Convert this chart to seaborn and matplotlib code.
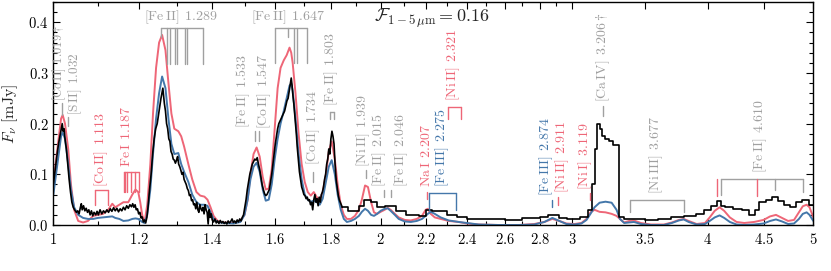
import matplotlib
matplotlib.use("Agg")
import matplotlib.pyplot as plt
import matplotlib.ticker as mticker
import seaborn as sns

RED = "#EE6677"
BLUE = "#4477AA"
GRAY = "#A0A0A0"

# model spectra (micron, mJy)
wave_model = [
    1.000, 1.010, 1.0165, 1.020, 1.025, 1.032, 1.038, 1.045, 1.054, 1.065,
    1.076, 1.088, 1.099, 1.111, 1.123, 1.133, 1.140, 1.150, 1.160, 1.172,
    1.182, 1.190, 1.197, 1.202, 1.207, 1.213, 1.220, 1.228, 1.235, 1.243,
    1.251, 1.259, 1.268, 1.276, 1.284, 1.292, 1.303, 1.311, 1.319, 1.331,
    1.342, 1.354, 1.365, 1.377, 1.386, 1.395, 1.404, 1.416, 1.434, 1.464,
    1.486, 1.499, 1.509, 1.518, 1.528, 1.538, 1.548, 1.558, 1.568, 1.578,
    1.588, 1.598, 1.608, 1.618, 1.629, 1.639, 1.649, 1.655, 1.660, 1.670,
    1.681, 1.692, 1.703, 1.714, 1.725, 1.736, 1.747, 1.758, 1.769, 1.781,
    1.792, 1.803, 1.815, 1.826, 1.838, 1.850, 1.862, 1.878, 1.894, 1.910,
    1.922, 1.935, 1.947, 1.960, 1.972, 1.985, 2.000, 2.017, 2.030, 2.043,
    2.061, 2.078, 2.105, 2.132, 2.159, 2.183, 2.200, 2.210, 2.224, 2.243,
    2.271, 2.310, 2.360, 2.400, 2.462, 2.570, 2.680, 2.769, 2.829, 2.877,
    2.920, 2.964, 3.015, 3.060, 3.093, 3.119, 3.146, 3.180, 3.220, 3.262,
    3.296, 3.320, 3.350, 3.385, 3.420, 3.470, 3.545, 3.644, 3.706, 3.761,
    3.800, 3.840, 3.906, 3.975, 4.015, 4.058, 4.100, 4.140, 4.190, 4.250,
    4.320, 4.410, 4.500, 4.563, 4.620, 4.680, 4.740, 4.800, 4.850, 4.890,
    4.930, 4.960, 5.000,
]
flux_red = [
    .085, .16, .21, .217, .20, .15, .08, .03, .008, .005,
    .008, .018, .02, .022, .03, .042, .035, .04, .045, .045,
    .06, .07, .065, .045, .02, .005, .04, .12, .22, .31,
    .36, .375, .345, .28, .22, .19, .185, .175, .155, .12,
    .09, .065, .058, .056, .05, .035, .018, .008, .005, .004,
    .008, .02, .05, .10, .14, .153, .135, .095, .07, .072,
    .11, .19, .27, .31, .325, .335, .35, .34, .32, .26,
    .18, .12, .085, .065, .058, .065, .055, .05, .065, .10,
    .145, .165, .13, .08, .04, .02, .012, .012, .018, .03,
    .05, .078, .075, .045, .025, .022, .026, .03, .034, .03,
    .022, .015, .01, .009, .012, .018, .03, .032, .022, .015,
    .012, .008, .006, .003, .001, 0, 0, .002, .006, .012,
    .008, .003, .002, .004, .012, .025, .03, .026, .025, .022,
    .018, .012, .005, .008, .009, .004, .001, .001, .005, .01,
    .012, .008, .002, .004, .015, .028, .035, .028, .015, .006,
    .004, .006, .01, .017, .02, .014, .008, .01, .025, .037,
    .04, .035, .015,
]
flux_blue = [
    .06, .13, .175, .183, .17, .12, .07, .035, .02, .014,
    .012, .012, .014, .015, .016, .017, .014, .012, .008, .009,
    .012, .013, .012, .009, .006, .004, .02, .07, .14, .21,
    .26, .293, .27, .21, .16, .14, .142, .12, .105, .085,
    .06, .045, .04, .04, .038, .025, .012, .006, .004, .003,
    .006, .02, .05, .09, .115, .123, .105, .07, .048, .05,
    .08, .13, .17, .2, .225, .25, .275, .279, .265, .21,
    .14, .09, .06, .05, .046, .048, .045, .04, .052, .085,
    .115, .128, .10, .06, .03, .012, .006, .008, .012, .018,
    .026, .032, .028, .02, .018, .022, .028, .032, .033, .028,
    .02, .012, .007, .006, .008, .012, .018, .022, .026, .022,
    .015, .009, .006, .004, .001, 0, 0, .001, .006, .014,
    .008, .002, .001, .003, .01, .022, .035, .044, .046, .044,
    .03, .012, .004, .005, .006, .002, 0, 0, .004, .009,
    .011, .006, .001, .002, .008, .015, .019, .014, .006, .001,
    0, .001, .003, .008, .011, .007, .002, .003, .012, .022,
    .025, .02, .008,
]

# observed spectrum, full resolution part
wave_obs = [
    1.000, 1.004, 1.008, 1.011, 1.014, 1.017, 1.019, 1.021, 1.023, 1.025,
    1.028, 1.031, 1.034, 1.037, 1.040, 1.043, 1.046, 1.050, 1.053, 1.056,
    1.059, 1.061, 1.063, 1.066, 1.069, 1.072, 1.075, 1.078, 1.081, 1.084,
    1.087, 1.090, 1.094, 1.097, 1.100, 1.104, 1.108, 1.112, 1.116, 1.120,
    1.124, 1.128, 1.132, 1.136, 1.140, 1.144, 1.148, 1.152, 1.156, 1.160,
    1.164, 1.168, 1.172, 1.176, 1.180, 1.183, 1.186, 1.189, 1.192, 1.195,
    1.198, 1.201, 1.204, 1.207, 1.210, 1.213, 1.216, 1.219, 1.222, 1.226,
    1.230, 1.234, 1.238, 1.242, 1.246, 1.250, 1.253, 1.256, 1.259, 1.261,
    1.263, 1.265, 1.268, 1.271, 1.274, 1.277, 1.280, 1.283, 1.286, 1.289,
    1.292, 1.295, 1.298, 1.301, 1.304, 1.307, 1.310, 1.313, 1.316, 1.319,
    1.322, 1.325, 1.328, 1.331, 1.334, 1.337, 1.340, 1.343, 1.346, 1.349,
    1.352, 1.355, 1.358, 1.361, 1.364, 1.367, 1.370, 1.373, 1.376, 1.379,
    1.382, 1.385, 1.388, 1.391, 1.394, 1.397, 1.400, 1.404, 1.408, 1.412,
    1.416, 1.420, 1.424, 1.428, 1.432, 1.436, 1.440, 1.444, 1.448, 1.452,
    1.456, 1.460, 1.464, 1.468, 1.472, 1.476, 1.480, 1.484, 1.488, 1.492,
    1.496, 1.500, 1.504, 1.508, 1.512, 1.516, 1.520, 1.524, 1.528, 1.532,
    1.536, 1.540, 1.544, 1.548, 1.552, 1.556, 1.560, 1.564, 1.568, 1.572,
    1.576, 1.580, 1.584, 1.588, 1.592, 1.596, 1.600, 1.604, 1.608, 1.612,
    1.616, 1.620, 1.624, 1.628, 1.632, 1.636, 1.640, 1.644, 1.648, 1.652,
    1.655, 1.658, 1.661, 1.664, 1.667, 1.670, 1.673, 1.676, 1.680, 1.684,
    1.688, 1.692, 1.696, 1.700, 1.704, 1.708, 1.712, 1.716, 1.720, 1.724,
    1.728, 1.732, 1.736, 1.740, 1.744, 1.748, 1.752, 1.756, 1.760, 1.764,
    1.768, 1.772, 1.776, 1.780, 1.784, 1.788, 1.792, 1.796, 1.800, 1.804,
    1.808, 1.812, 1.816, 1.820, 1.824, 1.828, 1.832, 1.836, 1.840, 1.844,
]
flux_obs = [
    .08, .11, .14, .16, .175, .19, .2, .185, .19, .17,
    .15, .12, .09, .065, .045, .035, .03, .025, .028, .022,
    .035, .042, .03, .038, .028, .033, .025, .03, .02, .028,
    .018, .025, .02, .027, .02, .03, .022, .028, .024, .03,
    .025, .032, .027, .034, .028, .033, .026, .032, .028, .035,
    .03, .038, .033, .04, .036, .042, .035, .04, .03, .032,
    .022, .025, .014, .016, .006, .01, .004, .015, .035, .07,
    .10, .14, .17, .19, .20, .22, .235, .25, .262, .27,
    .255, .24, .225, .20, .19, .17, .165, .145, .14, .13,
    .128, .122, .128, .135, .12, .115, .108, .10, .104, .09,
    .085, .08, .072, .068, .058, .06, .048, .05, .04, .042,
    .032, .045, .03, .025, .04, .032, .028, .035, .022, .04,
    .03, .025, .002, .03, .015, .022, .01, .006, .012, .004,
    .008, .003, .009, .004, .007, .003, .006, .002, .008, .004,
    .007, .012, .005, .008, .004, .01, .006, .012, .008, .015,
    .02, .035, .05, .07, .085, .10, .11, .12, .125, .13,
    .128, .133, .12, .11, .095, .08, .07, .062, .058, .06,
    .065, .07, .085, .10, .12, .14, .16, .175, .19, .20,
    .205, .21, .215, .22, .225, .235, .245, .25, .265, .28,
    .29, .275, .255, .24, .22, .20, .18, .155, .13, .105,
    .09, .075, .068, .06, .058, .052, .055, .048, .05, .04,
    .045, .03, .05, .06, .045, .052, .038, .055, .045, .06,
    .065, .075, .09, .10, .12, .13, .15, .14, .17, .185,
    .175, .16, .12, .09, .075, .06, .05, .045, .04, .035,
]

# observed spectrum, binned part (left bin edges + last right edge)
edges_bin = [
    1.844, 1.865, 1.910, 1.930, 1.960, 1.985, 2.020, 2.065, 2.110, 2.170,
    2.200, 2.230, 2.300, 2.350, 2.400, 2.500, 2.600, 2.700, 2.800, 2.850,
    2.920, 2.970, 3.050, 3.100, 3.130, 3.150, 3.165, 3.180, 3.195, 3.215,
    3.245, 3.270, 3.310, 3.350, 3.420, 3.500, 3.600, 3.700, 3.800, 3.900,
    3.970, 4.030, 4.080, 4.110, 4.150, 4.220, 4.300, 4.360, 4.420, 4.460,
    4.520, 4.580, 4.640, 4.700, 4.760, 4.820, 4.880, 4.950, 5.000,
]
flux_bin = [
    .035, .028, .037, .05, .045, .035, .038, .028, .02, .018,
    .03, .028, .02, .015, .012, .011, .01, .013, .015, .02,
    .014, .012, .015, .03, .08, .15, .2, .19, .175, .17,
    .165, .158, .015, .012, .011, .01, .012, .016, .018, .022,
    .03, .037, .048, .038, .035, .032, .03, .02, .03, .045,
    .05, .055, .048, .04, .036, .045, .05, .04,
]

xticks_major = [1, 1.2, 1.4, 1.6, 1.8, 2, 2.2, 2.4, 2.6, 2.8, 3, 3.5, 4, 4.5, 5]
xtick_labels = ["1", "1.2", "1.4", "1.6", "1.8", "2", "2.2", "2.4", "2.6", "2.8",
                "3", "3.5", "4", "4.5", "5"]
xticks_minor = [1.1, 1.3, 1.5, 1.7, 1.9, 2.1, 2.3, 2.5, 2.7, 2.9]

# line identifications (micron)
fe2_1289 = [1.257, 1.271, 1.279, 1.295, 1.298, 1.321, 1.328, 1.372]
fe2_1647 = [1.600, 1.644, 1.664, 1.677, 1.711]
fe2_1803 = [1.797, 1.810]
co2_1113 = [1.092, 1.123]
fe1_1187 = [1.161, 1.164, 1.169, 1.179, 1.189, 1.198]
fe3_2275 = [2.218, 2.348]
ni2_2321 = [2.308, 2.369]
ni3_3677 = [3.393, 3.802]
fe2_4610 = [4.115, 4.608, 4.889]
red_4610 = [4.080, 4.435]

sns.set_style("ticks")
plt.rcParams.update({
    "font.family": "serif",
    "mathtext.fontset": "cm",
    "axes.linewidth": 1.0,
    "xtick.direction": "in",
    "ytick.direction": "in",
    "xtick.top": True,
    "ytick.right": True,
    "xtick.major.size": 5,
    "ytick.major.size": 5,
    "xtick.minor.size": 3,
    "ytick.minor.size": 3,
    "xtick.color": "black",
    "ytick.color": "black",
    "axes.edgecolor": "black",
})

fig = plt.figure(figsize=(8.31, 2.71), dpi=100)
ax = fig.add_axes([0.0642, 0.1697, 0.9145, 0.8229])

sns.lineplot(x=wave_model, y=flux_red, color=RED, lw=1.4, ax=ax,
             sort=False, estimator=None)
sns.lineplot(x=wave_model, y=flux_blue, color=BLUE, lw=1.4, ax=ax,
             sort=False, estimator=None)
sns.lineplot(x=wave_obs, y=flux_obs, color="black", lw=1.2, ax=ax,
             sort=False, estimator=None)
sns.lineplot(x=edges_bin, y=flux_bin + [flux_bin[-1]], color="black", lw=1.2,
             ax=ax, sort=False, estimator=None, drawstyle="steps-post")

ax.set_xscale("log")
ax.set_xlim(1, 5)
ax.set_ylim(0, 0.44)
ax.xaxis.set_major_locator(mticker.FixedLocator(xticks_major))
ax.xaxis.set_major_formatter(mticker.FixedFormatter(["$%s$" % s for s in xtick_labels]))
ax.xaxis.set_minor_locator(mticker.FixedLocator(xticks_minor))
ax.xaxis.set_minor_formatter(mticker.NullFormatter())
ax.yaxis.set_major_locator(mticker.MultipleLocator(0.1))
ax.yaxis.set_minor_locator(mticker.MultipleLocator(0.02))
ax.yaxis.set_major_formatter(mticker.FuncFormatter(lambda v, p: "$%.1f$" % v))
ax.tick_params(which="both", labelsize=10.5, width=0.8, top=True, right=True)
ax.tick_params(axis="x", pad=5)
ax.set_xlabel("")
ax.set_ylabel(r"$F_\nu\ [\mathrm{mJy}]$", fontsize=11.5, labelpad=6)


def tick(x, y0, y1, color):
    ax.plot([x, x], [y0, y1], color=color, lw=1)


def comb(xs, ytop, ybot, color):
    ax.plot([xs[0], xs[-1]], [ytop, ytop], color=color, lw=1)
    if not isinstance(ybot, list):
        ybot = [ybot] * len(xs)
    for x, yb in zip(xs, ybot):
        ax.plot([x, x], [ytop, yb], color=color, lw=1)


def ion(el, st, wl, extra=""):
    # "[Fe II] 1.289" style label in mathtext
    return r"$[\mathrm{%s\,%s}]\;\,%s%s$" % (el, st, wl, extra)


def vlabel(x, y, s, color, size=10):
    ax.text(x, y, s, rotation=90, ha="center", va="bottom", color=color,
            fontsize=size, linespacing=1.3)


# gray labels
vlabel(1.012, 0.245, ion("Co", "II", "1.019", r"\dagger"), GRAY, size=9)
vlabel(1.047, 0.218, ion("S", "II", "1.032"), GRAY, size=9.5)
tick(1.019, 0.218, 0.24, GRAY)
tick(1.032, 0.195, 0.213, GRAY)

ax.text(1.31, 0.41, ion("Fe", "II", "1.289"), ha="center", va="center",
        color=GRAY, fontsize=10)
comb(fe2_1289, 0.388, [0.37] + [0.318] * 7, GRAY)
ax.text(1.645, 0.41, ion("Fe", "II", "1.647"), ha="center", va="center",
        color=GRAY, fontsize=10)
comb(fe2_1647, 0.388, [0.32, 0.37, 0.32, 0.32, 0.32], GRAY)

vlabel(1.529, 0.19, ion("Fe", "II", "1.533") + "\n" + ion("Co", "II", "1.547"), GRAY)
tick(1.533, 0.165, 0.185, GRAY)
tick(1.547, 0.165, 0.185, GRAY)

vlabel(1.735, 0.118, ion("Co", "II", "1.734"), GRAY)
tick(1.734, 0.085, 0.105, GRAY)
vlabel(1.803, 0.235, ion("Fe", "II", "1.803"), GRAY)
comb(fe2_1803, 0.222, 0.21, GRAY)

vlabel(1.927, 0.115, ion("Ni", "II", "1.939"), GRAY)
tick(1.939, 0.093, 0.108, GRAY)
vlabel(2.041, 0.075, ion("Fe", "II", "2.015") + "\n" + ion("Fe", "II", "2.046"), GRAY)
tick(2.015, 0.055, 0.07, GRAY)
tick(2.046, 0.055, 0.07, GRAY)

vlabel(3.206, 0.243, ion("Ca", "IV", "3.206", r"\dagger"), GRAY)
tick(3.206, 0.215, 0.235, GRAY)
vlabel(3.585, 0.062, ion("Ni", "III", "3.677"), GRAY)
comb(ni3_3677, 0.05, 0.025, GRAY)
vlabel(4.465, 0.102, ion("Fe", "II", "4.610"), GRAY)
comb(fe2_4610, 0.09, [0.06, 0.07, 0.065], GRAY)
for x in red_4610:
    tick(x, 0.058, 0.09, RED)

# red labels
vlabel(1.107, 0.075, ion("Co", "II", "1.113"), RED)
comb(co2_1113, 0.069, 0.04, RED)
vlabel(1.167, 0.115, r"$\mathrm{Fe\,I}\;\,1.187$", RED)
comb(fe1_1187, 0.105, 0.065, RED)
vlabel(2.201, 0.075, r"$\mathrm{Na\,I}\;\,2.207$", RED)
tick(2.207, 0.052, 0.065, RED)
vlabel(2.334, 0.245, ion("Ni", "II", "2.321"), RED)
comb(ni2_2321, 0.232, 0.21, RED)
vlabel(2.938, 0.063, ion("Ni", "II", "2.911"), RED)
tick(2.911, 0.04, 0.055, RED)
vlabel(3.086, 0.07, ion("Ni", "I", "3.119"), RED)
tick(3.119, 0.05, 0.063, RED)

# blue labels
vlabel(2.278, 0.075, ion("Fe", "III", "2.275"), BLUE)
comb(fe3_2275, 0.063, 0.03, BLUE)
vlabel(2.84, 0.058, ion("Fe", "III", "2.874"), BLUE)
tick(2.874, 0.035, 0.05, BLUE)

ax.text(2.23, 0.407, r"$\mathcal{F}_{1-5\,\mu\mathrm{m}} = 0.16$", ha="center",
        va="center", fontsize=13)

fig.savefig("out.png", dpi=100)
